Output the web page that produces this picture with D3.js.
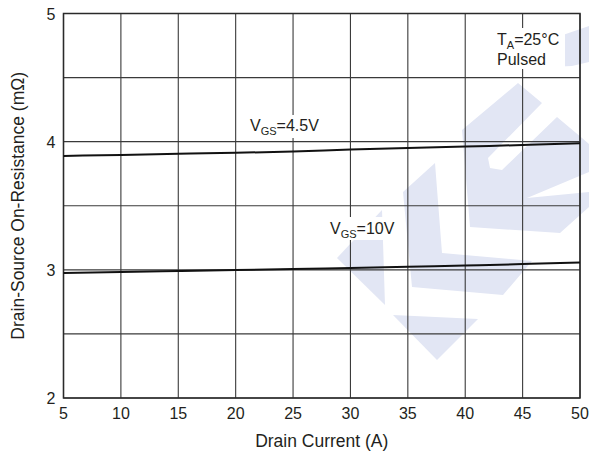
<!DOCTYPE html>
<html lang="en">
<head>
<meta charset="UTF-8">
<title>Drain-Source On-Resistance vs Drain Current</title>
<script src="https://d3js.org/d3.v7.min.js"></script>
<style>
    body { margin: 0; background: #fff; }
    svg { display: block; font-family: "Liberation Sans", Arial, sans-serif; }
    .tick-label { font-size: 16px; fill: #231f20; }
    .axis-title { font-size: 17.5px; fill: #231f20; }
    .note { font-size: 16px; fill: #231f20; }
</style>
</head>
<body>
<div id="chart"></div>
<script>
    // drain current (A) and on-resistance (mOhm)
    const current = [5, 10, 15, 20, 25, 30, 35, 40, 45, 50];
    const rdsVgs45 = [3.889, 3.896, 3.905, 3.913, 3.923, 3.938, 3.950, 3.962, 3.974, 3.987];
    const rdsVgs10 = [2.975, 2.983, 2.991, 2.998, 3.006, 3.015, 3.024, 3.034, 3.045, 3.057];

    const xTicks = [5, 10, 15, 20, 25, 30, 35, 40, 45, 50];
    const yGrid = [2, 2.5, 3, 3.5, 4, 4.5, 5];
    const yLabels = [2, 3, 4, 5];

    const width = 589;
    const height = 455;
    const margin = { top: 13.5, right: 9, bottom: 57, left: 63.5 };

    const svg = d3.select("#chart").append("svg")
        .attr("width", width)
        .attr("height", height);

    const x = d3.scaleLinear()
        .domain([5, 50])
        .range([margin.left, width - margin.right]);

    const y = d3.scaleLinear()
        .domain([2, 5])
        .range([height - margin.bottom, margin.top]);

    // faint logo watermark behind the grid (page pixels)
    const watermark = [
        [[337, 258], [382, 210], [385, 305]],
        [[403, 192], [435, 163], [442, 253], [532, 261], [503, 295], [412, 287]],
        [[393, 315], [478, 319], [437, 360]],
        [[462, 130], [518, 83], [542, 103], [488, 158], [490, 168], [502, 170], [557, 117],
         [582, 138], [589, 144], [589, 172], [527, 198], [589, 192], [589, 207], [560, 233], [470, 227]],
        [[525, 68], [560, 36], [589, 26], [589, 62], [572, 66]]
    ];
    svg.append("g").selectAll("polygon")
        .data(watermark)
        .enter().append("polygon")
        .attr("points", d => d.map(p => p.join(",")).join(" "))
        .attr("fill", "#e2e6f4");

    // grid
    const grid = svg.append("g").attr("stroke", "#3a3a3a").attr("stroke-width", 1.1);
    grid.selectAll(".vline")
        .data(xTicks)
        .enter().append("line")
        .attr("x1", d => x(d)).attr("x2", d => x(d))
        .attr("y1", y(2)).attr("y2", y(5));
    grid.selectAll(".hline")
        .data(yGrid)
        .enter().append("line")
        .attr("x1", x(5)).attr("x2", x(50))
        .attr("y1", d => y(d)).attr("y2", d => y(d));

    svg.append("rect")
        .attr("x", x(5)).attr("y", y(5))
        .attr("width", x(50) - x(5)).attr("height", y(2) - y(5))
        .attr("fill", "none")
        .attr("stroke", "#2a2a2a")
        .attr("stroke-width", 1.5);

    // tick labels
    svg.append("g").selectAll("text")
        .data(xTicks)
        .enter().append("text")
        .attr("class", "tick-label")
        .attr("x", d => x(d))
        .attr("y", y(2) + 21)
        .attr("text-anchor", "middle")
        .text(d => d);

    svg.append("g").selectAll("text")
        .data(yLabels)
        .enter().append("text")
        .attr("class", "tick-label")
        .attr("x", x(5) - 8)
        .attr("y", d => y(d) + 6)
        .attr("text-anchor", "end")
        .text(d => d);

    svg.append("text")
        .attr("class", "axis-title")
        .attr("x", (x(5) + x(50)) / 2)
        .attr("y", 447)
        .attr("text-anchor", "middle")
        .text("Drain Current (A)");

    svg.append("text")
        .attr("class", "axis-title")
        .attr("transform", `translate(24,${(y(2) + y(5)) / 2}) rotate(-90)`)
        .attr("text-anchor", "middle")
        .text("Drain-Source On-Resistance (mΩ)");

    // annotations sit on white boxes that hide grid and watermark
    function note(px, py, main, sub, rest) {
        const t = svg.append("text").attr("class", "note").attr("x", px).attr("y", py);
        t.append("tspan").text(main);
        if (sub) {
            t.append("tspan").attr("font-size", "11px").attr("dy", 4).text(sub);
            t.append("tspan").attr("dy", -4).text(rest);
        }
        return t;
    }
    function box(x0, y0, w, h) {
        svg.append("rect").attr("x", x0).attr("y", y0).attr("width", w).attr("height", h).attr("fill", "#fff");
    }

    box(246, 115, 80, 23);
    box(326, 217, 72, 23);
    box(493, 28, 72, 41);

    note(250, 131, "V", "GS", "=4.5V");
    note(330, 234, "V", "GS", "=10V");
    note(497, 45, "T", "A", "=25°C");
    note(497, 65, "Pulsed");

    // curves
    const line = d3.line()
        .x((d, i) => x(current[i]))
        .y(d => y(d))
        .curve(d3.curveMonotoneX);

    [rdsVgs45, rdsVgs10].forEach(series => {
        svg.append("path")
            .datum(series)
            .attr("d", line)
            .attr("fill", "none")
            .attr("stroke", "#111")
            .attr("stroke-width", 2);
    });
</script>
</body>
</html>
